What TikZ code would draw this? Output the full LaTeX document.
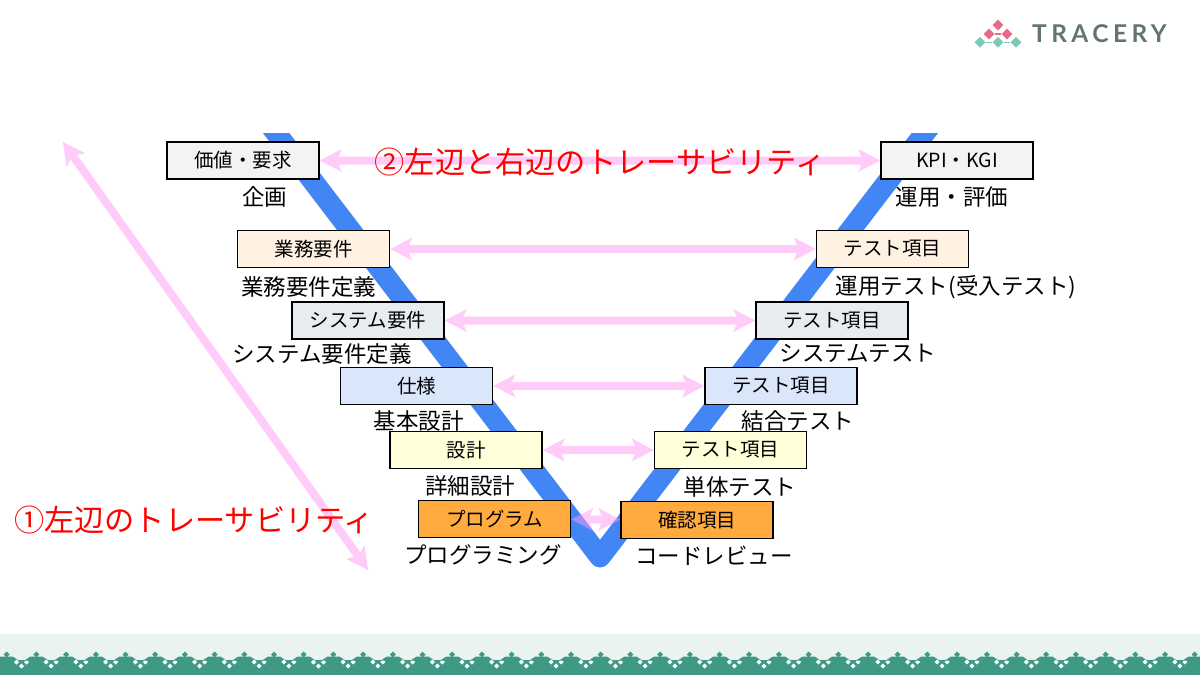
\documentclass[tikz,border=0pt]{standalone}
\usepackage{fontspec}
\setmainfont{Noto Sans CJK JP}
\newfontfamily\logofont[LetterSpace=18]{Lato}
\usetikzlibrary{arrows.meta, calc, shapes.geometric}
\definecolor{vblue}{HTML}{4285F4}
\definecolor{pinkline}{HTML}{FF99F5}
\definecolor{greybox}{HTML}{F3F3F3}
\definecolor{orangelight}{HTML}{FFF2E2}
\definecolor{steelbox}{HTML}{E8ECEF}
\definecolor{bluebox}{HTML}{DAE6FA}
\definecolor{yellowbox}{HTML}{FFFFDA}
\definecolor{orangebox}{HTML}{FFAB40}
\definecolor{logopink}{HTML}{E86A85}
\definecolor{logoteal}{HTML}{7CC9B4}
\definecolor{logogrey}{HTML}{64756F}
\definecolor{footlight}{HTML}{EBF3F1}
\definecolor{footdark}{HTML}{3F9A85}

\begin{document}
\begin{tikzpicture}[
    x=1pt, y=-1pt,
    boxstyle/.style={draw=black, line width=1.6pt, minimum width=152pt, minimum height=37pt, inner sep=0pt, font=\fontsize{19.5}{22}\selectfont},
    labelstyle/.style={inner sep=0pt, yshift=-0.8pt, font=\fontsize{22.5}{26}\selectfont},
    redstyle/.style={red, inner sep=0pt, font=\fontsize{30.2}{34}\selectfont},
    pinkarrow/.style={{Stealth[length=22pt,width=23pt,inset=5pt,line width=0pt]}-{Stealth[length=22pt,width=23pt,inset=5pt,line width=0pt]}, pinkline, line width=8pt},
    logodot/.style={diamond, minimum size=11pt, inner sep=0pt, fill=#1}
]
    \useasboundingbox (0,0) rectangle (1200,675);

    % Footer band
    \fill[footlight] (0,634) rectangle (1200,675);
    \fill[footdark] (0,660) rectangle (1200,675);
    \foreach \c in {0,1,...,41} {
        \coordinate (peak) at ({6.7+29.7*\c},654.5);
        \coordinate (dip) at ({21.5+29.7*\c},666);
        \fill[footdark] ($(peak)+(0,-3)$) -- ($(peak)+(3,0)$) -- ($(peak)+(0,3)$) -- ($(peak)+(-3,0)$) -- cycle;
        \fill[footdark] ($(peak)+(-12,6)$) -- ($(peak)+(-6,2)$) -- ($(peak)+(6,2)$) -- ($(peak)+(12,6)$) -- cycle;
        \fill[white] ($(dip)+(0,-2.5)$) -- ($(dip)+(2.5,0)$) -- ($(dip)+(0,2.5)$) -- ($(dip)+(-2.5,0)$) -- cycle;
        \fill[white] ($(dip)+(-5,-6.5)$) -- ($(dip)+(-2.5,-4)$) -- ($(dip)+(-5,-1.5)$) -- ($(dip)+(-7.5,-4)$) -- cycle;
        \fill[white] ($(dip)+(5,-6.5)$) -- ($(dip)+(7.5,-4)$) -- ($(dip)+(5,-1.5)$) -- ($(dip)+(2.5,-4)$) -- cycle;
    }

    % Logo
    \node[logodot=logopink] (logoTop) at (998,25) {};
    \node[logodot=logopink] (logoLeft) at (989,34) {};
    \node[logodot=logopink] (logoRight) at (1007,34) {};
    \node[logodot=logoteal] (logoA) at (980,42.3) {};
    \node[logodot=logoteal] (logoB) at (998,42.3) {};
    \node[logodot=logoteal] (logoC) at (1016,42.3) {};
    \draw[logopink, line width=1.2pt] (logoLeft) -- (logoRight);
    \draw[logoteal, line width=1.2pt] (logoA) -- (logoB);
    \draw[logoteal, line width=1.2pt] (logoB) -- (logoC);
    \node[logogrey, inner sep=0pt, anchor=west, font=\logofont\bfseries\fontsize{24.5}{27}\selectfont] (logoText) at (1032,34) {TRACERY};

    % Blue V
    \coordinate (vLeft) at (270,125);
    \coordinate (vBottom) at (600,557);
    \coordinate (vRight) at (931,125);
    \begin{scope}
        \clip (0,133) rectangle (1200,675);
        \draw[vblue, line width=21pt, line join=round] (vLeft) -- (vBottom) -- (vRight);
    \end{scope}

    % Left side boxes
    \node[boxstyle, fill=greybox] (valueBox) at (243,160.5) {価値・要求};
    \node[boxstyle, fill=orangelight] (bizBox) at (313.5,249) {業務要件};
    \node[boxstyle, fill=steelbox] (sysBox) at (368,320.5) {システム要件};
    \node[boxstyle, fill=bluebox] (specBox) at (416.5,386) {仕様};
    \node[boxstyle, fill=yellowbox] (designBox) at (466,450) {設計};
    \node[boxstyle, fill=orangebox] (progBox) at (494.5,519) {プログラム};

    % Right side boxes
    \node[boxstyle, fill=greybox] (kpiBox) at (957,160.5) {KPI・KGI};
    \node[boxstyle, fill=orangelight] (opsTest) at (892.5,249) {テスト項目};
    \node[boxstyle, fill=steelbox] (sysTest) at (832,320.5) {テスト項目};
    \node[boxstyle, fill=bluebox] (joinTest) at (781,386) {テスト項目};
    \node[boxstyle, fill=yellowbox] (unitTest) at (730.5,450) {テスト項目};
    \node[boxstyle, fill=orangebox] (checkBox) at (697,520) {確認項目};

    % Pink arrows
    \coordinate (diagTop) at (63,142);
    \coordinate (diagBottom) at (368,570);
    \begin{scope}[transparency group, opacity=0.5]
        \draw[pinkarrow] (valueBox) -- (kpiBox);
        \draw[pinkarrow] (bizBox) -- (opsTest);
        \draw[pinkarrow] (sysBox) -- (sysTest);
        \draw[pinkarrow] (specBox) -- (joinTest);
        \draw[pinkarrow] (designBox) -- (unitTest);
        \draw[pinkarrow] (progBox) -- (checkBox);
        \draw[pinkarrow] (diagTop) -- (diagBottom);
    \end{scope}

    % Labels under boxes
    \node[labelstyle] (valueLabel) at (264.5,196) {企画};
    \node[labelstyle] (bizLabel) at (308.5,286) {業務要件定義};
    \node[labelstyle] (sysLabel) at (322,353) {システム要件定義};
    \node[labelstyle] (specLabel) at (418.5,420) {基本設計};
    \node[labelstyle] (designLabel) at (470,485) {詳細設計};
    \node[labelstyle] (progLabel) at (483,554) {プログラミング};
    \node[labelstyle] (kpiLabel) at (952,196) {運用・評価};
    \node[labelstyle] (opsLabel) at (956,286) {運用テスト(受入テスト)};
    \node[labelstyle] (sysTestLabel) at (858,353) {システムテスト};
    \node[labelstyle] (joinLabel) at (798,420) {結合テスト};
    \node[labelstyle] (unitLabel) at (740,486) {単体テスト};
    \node[labelstyle] (checkLabel) at (714,555) {コードレビュー};

    % Red titles
    \node[redstyle] (titleRight) at (600,162) {②左辺と右辺のトレーサビリティ};
    \node[redstyle] (titleLeft) at (194,520) {①左辺のトレーサビリティ};
\end{tikzpicture}
\end{document}
